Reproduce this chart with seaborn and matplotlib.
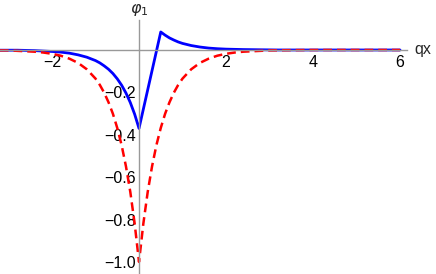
import numpy as np
import pandas as pd
import matplotlib
matplotlib.use("Agg")
import matplotlib.pyplot as plt
import seaborn as sns
from matplotlib.ticker import FixedLocator, FuncFormatter

# values
red_x = [-3.2, -3.0, -2.8, -2.6, -2.4, -2.2, -2.0, -1.8, -1.6, -1.4, -1.2, -1.0,
         -0.9, -0.8, -0.7, -0.6, -0.5, -0.4, -0.3, -0.2, -0.1, 0.0,
         0.1, 0.2, 0.3, 0.4, 0.5, 0.6, 0.7, 0.8, 0.9, 1.0,
         1.2, 1.4, 1.6, 1.8, 2.0, 2.2, 2.4, 2.6, 2.8, 3.0, 3.4, 4.0, 5.0, 6.0]
red_y = [-0.002, -0.002, -0.004, -0.006, -0.008, -0.012, -0.018, -0.027, -0.041, -0.061, -0.091, -0.135,
         -0.165, -0.202, -0.247, -0.301, -0.368, -0.449, -0.549, -0.670, -0.819, -1.000,
         -0.819, -0.670, -0.549, -0.449, -0.368, -0.301, -0.247, -0.202, -0.165, -0.135,
         -0.091, -0.061, -0.041, -0.027, -0.018, -0.012, -0.008, -0.006, -0.004, -0.002, -0.001, 0.0, 0.0, 0.0]

blue_x = [-3.2, -3.0, -2.8, -2.6, -2.4, -2.2, -2.0, -1.8, -1.6, -1.4, -1.2, -1.0,
          -0.9, -0.8, -0.7, -0.6, -0.5, -0.4, -0.3, -0.2, -0.1, 0.0,
          0.5, 0.6, 0.7, 0.8, 0.9, 1.0, 1.2, 1.4, 1.6, 1.8, 2.0, 2.4, 2.8, 3.2, 4.0, 5.0, 6.0]
blue_y = [-0.001, -0.001, -0.001, -0.002, -0.003, -0.005, -0.007, -0.010, -0.015, -0.023, -0.034, -0.050,
          -0.061, -0.075, -0.091, -0.111, -0.136, -0.166, -0.203, -0.248, -0.303, -0.370,
          0.085, 0.070, 0.057, 0.047, 0.038, 0.031, 0.021, 0.014, 0.009, 0.006, 0.004, 0.002, 0.001, 0.0, 0.0, 0.0, 0.0]

x_major = [-2, 2, 4, 6]
y_major = [-1.0, -0.8, -0.6, -0.4, -0.2]

sns.set_style("white")
plt.rcParams['font.family'] = ['Liberation Sans', 'DejaVu Sans']

fig = plt.figure(figsize=(4.36, 2.74), dpi=100)
ax = fig.add_axes([0.0, 0.004, 0.9335, 0.923])

blue = pd.DataFrame({'x': blue_x, 'y': blue_y})
red = pd.DataFrame({'x': red_x, 'y': red_y})
sns.lineplot(data=blue, x='x', y='y', ax=ax, color='#0000ff', lw=2.0, estimator=None, sort=False)
sns.lineplot(data=red, x='x', y='y', ax=ax, color='#ff0000', lw=1.8, estimator=None, sort=False,
             dashes=False)
ax.lines[-1].set_dashes((3.5, 2.0))

ax.set_xlim(-3.195, 6.16)
ax.set_ylim(-1.052, 0.1415)

# Mathematica-like axes through the origin
gray = '#999999'
for s in ['top', 'right']:
    ax.spines[s].set_visible(False)
ax.spines['left'].set_position(('data', 0))
ax.spines['bottom'].set_position(('data', 0))
for s in ['left', 'bottom']:
    ax.spines[s].set_color(gray)
    ax.spines[s].set_linewidth(1.0)

ax.xaxis.set_major_locator(FixedLocator(x_major))
ax.xaxis.set_minor_locator(FixedLocator([v for v in np.arange(-3.0, 6.01, 0.5) if v not in x_major and v != 0]))
ax.yaxis.set_major_locator(FixedLocator(y_major))
ax.yaxis.set_minor_locator(FixedLocator([round(v, 2) for v in np.arange(-1.05, 0.13, 0.05)
                                         if round(v, 2) not in y_major and abs(v) > 1e-6]))
ax.xaxis.set_major_formatter(FuncFormatter(lambda v, p: f"{v:.0f}".replace('-', '\u2212')))
ax.yaxis.set_major_formatter(FuncFormatter(lambda v, p: f"{v:.1f}".replace('-', '\u2212')))

ax.tick_params(which='both', direction='in', color=gray, width=0.8, labelsize=11.5, labelcolor='black')
ax.tick_params(which='major', length=3.2)
ax.tick_params(which='minor', length=1.8)
ax.tick_params(axis='x', pad=3.5)
ax.tick_params(axis='y', pad=2.5)

ax.set_xlabel('')
ax.set_ylabel('')
ax.text(6.33, 0.0, 'qx', fontsize=11.5, ha='left', va='center')
ax.text(0.0, 0.19, r'$\varphi_1$', fontsize=11.5, ha='center', va='center')

fig.savefig('out.png', dpi=100)
